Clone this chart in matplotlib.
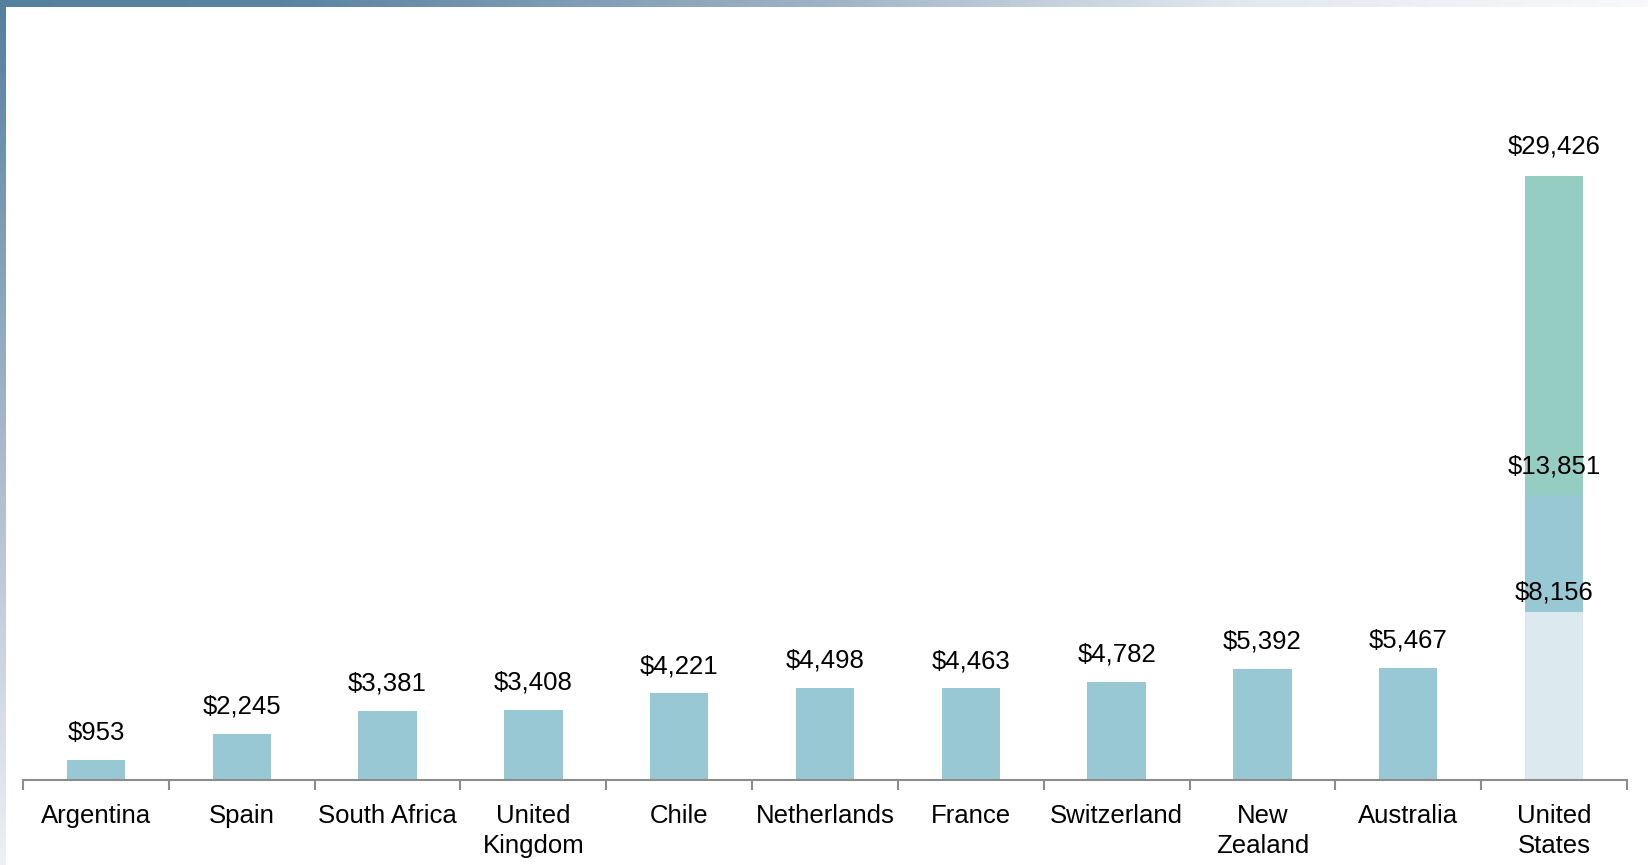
import numpy as np
import matplotlib.pyplot as plt
from matplotlib.colors import LinearSegmentedColormap

countries = ["Argentina", "Spain", "South Africa", "United\nKingdom", "Chile",
             "Netherlands", "France", "Switzerland", "New\nZealand", "Australia",
             "United\nStates"]
values = [953, 2245, 3381, 3408, 4221, 4498, 4463, 4782, 5392, 5467]
# United States shown as three stacked levels (cumulative totals)
us_levels = [8156, 13851, 29426]

bar_color = "#98c8d3"
us_colors = ["#dceaef", "#98c8d3", "#96cdc3"]

plt.rcParams['font.family'] = ['Liberation Sans', 'DejaVu Sans']

fig = plt.figure(figsize=(16.48, 8.65), dpi=100)
W, H = 1648, 865

# frame gradients (top and left)
top_cmap = LinearSegmentedColormap.from_list(
    "top", [(0, "#54809f"), (0.17, "#5a83a2"), (0.5, "#9fb3c6"), (0.75, "#e2e8ee"), (1, "#f9f9fb")])
left_cmap = LinearSegmentedColormap.from_list(
    "left", [(0, "#54809f"), (0.5, "#a6b8c9"), (1, "#eef0f4")])
ax_top = fig.add_axes([0, 1 - 7 / H, 1, 7 / H])
ax_top.imshow(np.linspace(0, 1, 256)[None, :], aspect="auto", cmap=top_cmap)
ax_top.axis("off")
ax_left = fig.add_axes([0, 0, 6 / W, 1 - 7 / H])
ax_left.imshow(np.linspace(0, 1, 256)[:, None], aspect="auto", cmap=left_cmap)
ax_left.axis("off")

# main axes
x0, x1, ybase, ytop = 23, 1627, 780, 100
ax = fig.add_axes([x0 / W, (H - ybase) / H, (x1 - x0) / W, (ybase - ytop) / H])
ymax = us_levels[-1] * (ybase - ytop) / 604.5
ax.set_ylim(0, ymax)
ax.set_xlim(-0.5, len(countries) - 0.5)

pos = np.arange(len(countries))
ax.bar(pos[:-1], values, width=0.4, color=bar_color)
bottom = 0
for lvl, c in zip(us_levels, us_colors):
    ax.bar(pos[-1], lvl - bottom, bottom=bottom, width=0.4, color=c)
    bottom = lvl

for p, v in zip(pos[:-1], values):
    ax.annotate(f"${v:,}", (p, v), xytext=(0, 11), textcoords="offset points",
                ha="center", va="bottom", fontsize=18.5)
for lvl, off in zip(us_levels, [6, 12, 12]):
    ax.annotate(f"${lvl:,}", (pos[-1], lvl), xytext=(0, off), textcoords="offset points",
                ha="center", va="bottom", fontsize=18.5)

for s in ["top", "right", "left"]:
    ax.spines[s].set_visible(False)
ax.spines["bottom"].set_color("#8c8c8c")
ax.spines["bottom"].set_linewidth(1.5)
ax.set_yticks([])
ax.set_xticks(pos)
ax.set_xticklabels(countries, fontsize=18.5, linespacing=1.32)
ax.tick_params(axis="x", length=0, pad=17)
ax.set_xticks(np.arange(-0.5, len(countries)), minor=True)
ax.tick_params(axis="x", which="minor", length=7, width=1.5, color="#8c8c8c")

fig.savefig("out.png", dpi=100)
